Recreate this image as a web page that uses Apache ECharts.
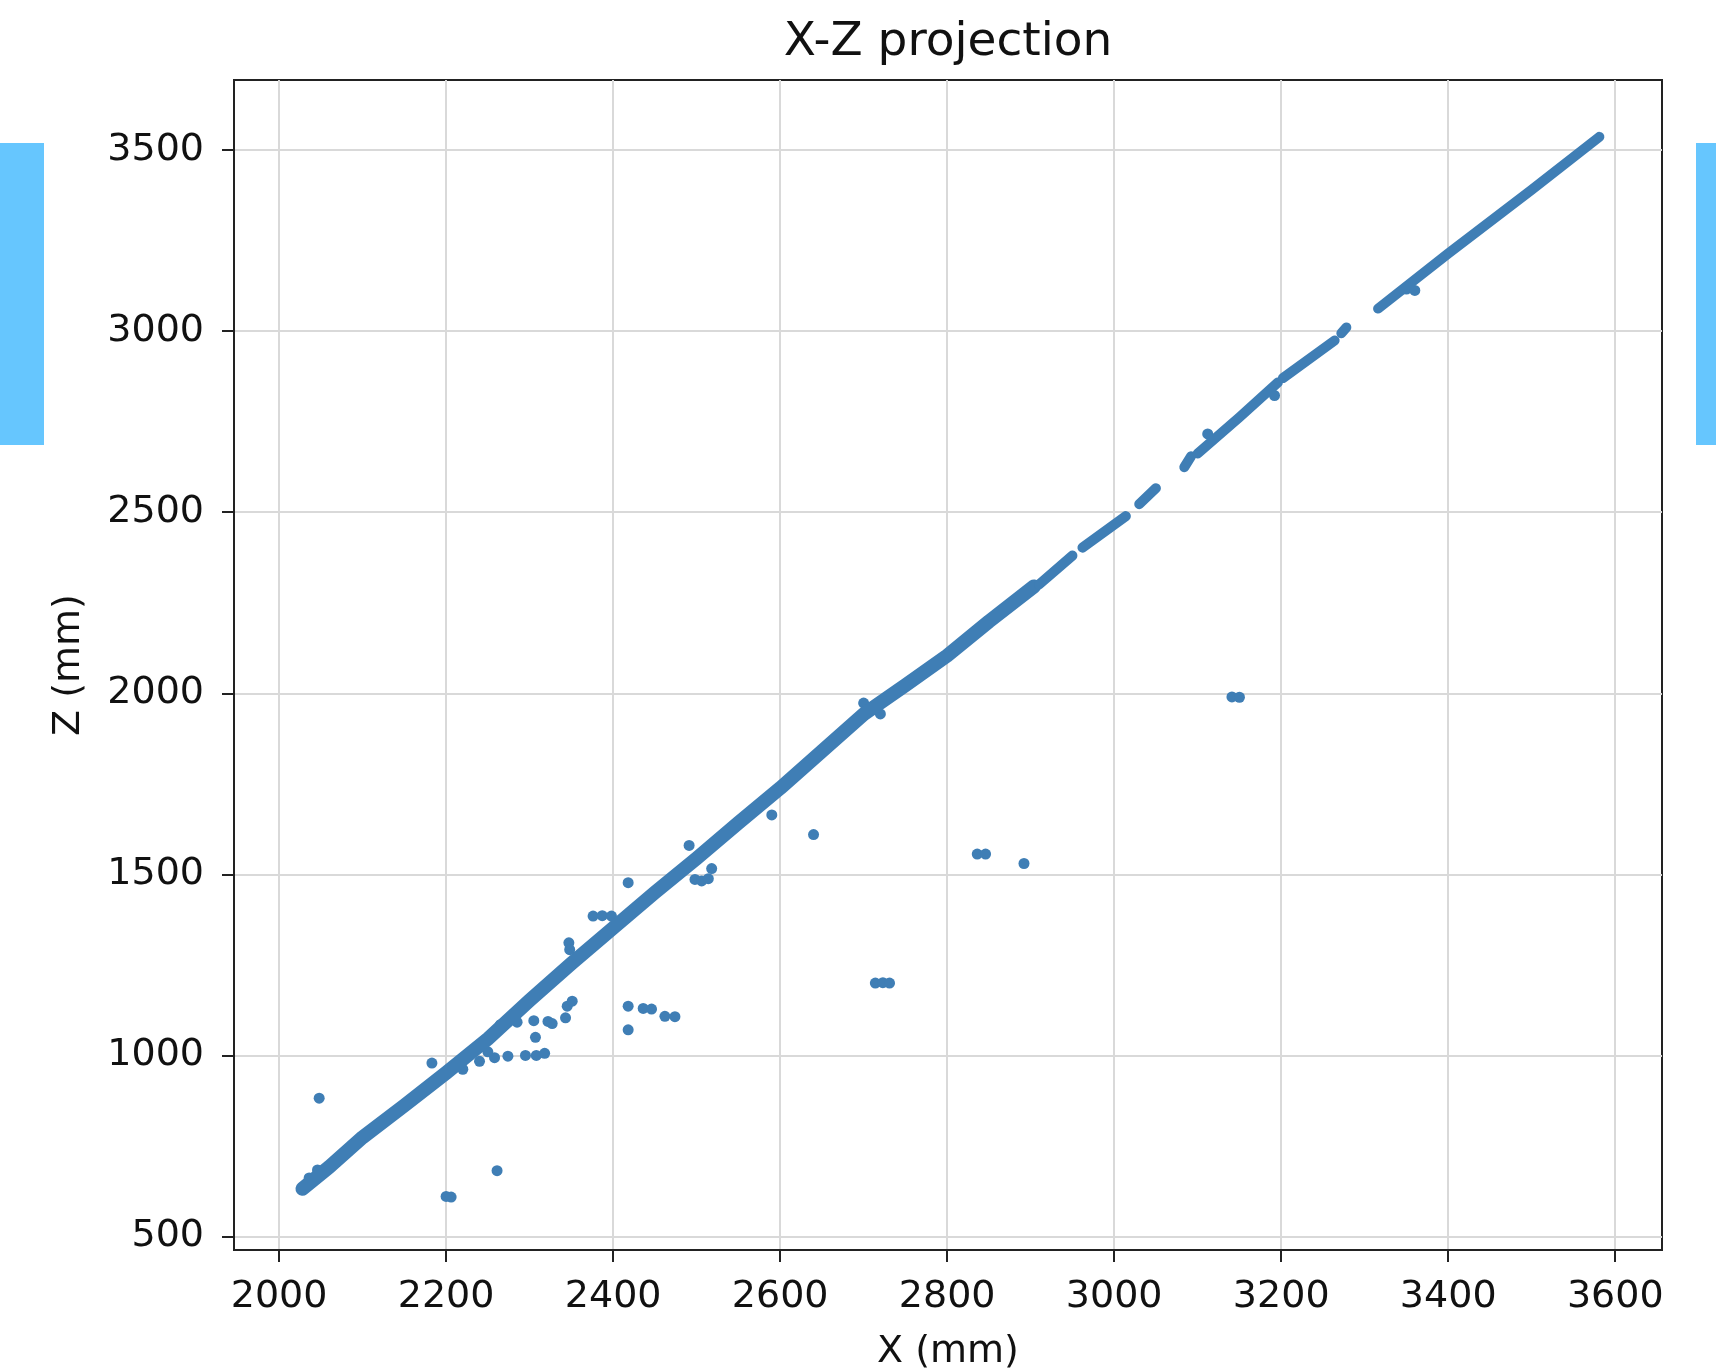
<!DOCTYPE html>
<html>
<head>
<meta charset="utf-8">
<title>X-Z projection</title>
<script src="https://cdn.jsdelivr.net/npm/echarts@6/dist/echarts.min.js"></script>
<style>
    html, body { margin: 0; padding: 0; background: #fff; }
    #xz-chart { width: 1716px; height: 1372px; }
</style>
</head>
<body>
<div id="xz-chart"></div>
<script>
// main track as [X, Z] in mm
var trackLower = [
    [2028, 632], [2060, 692], [2100, 774], [2150, 862], [2200, 952], [2250, 1046],
    [2300, 1152], [2350, 1254], [2400, 1352], [2450, 1450], [2500, 1544], [2550, 1642],
    [2600, 1738], [2650, 1840], [2700, 1942], [2750, 2022], [2800, 2104], [2850, 2198], [2904, 2295]
];
var trackSeg1 = [[2910, 2300], [2950, 2380]];
var trackSeg2 = [[2962, 2402], [3014, 2489]];
var trackSeg3 = [[3030, 2522], [3050, 2566]];
var trackSeg4 = [[3084, 2624], [3092, 2654]];
var trackSeg5 = [[3100, 2662], [3150, 2762], [3196, 2858]];
var trackSeg6 = [[3202, 2870], [3264, 2974]];
var trackSeg7 = [[3272, 2994], [3278, 3010]];
var trackSeg8 = [[3316, 3062], [3400, 3214], [3500, 3390], [3581, 3536]];

// hits away from the track
var hitPoints = [
    [2036, 662], [2046, 684], [2048, 882], [2183, 979], [2200, 611], [2206, 609], [2261, 682],
    [2220, 962], [2240, 984], [2258, 994], [2274, 998], [2250, 1010],
    [2265, 1085], [2285, 1092], [2305, 1096], [2322, 1094], [2327, 1088],
    [2295, 1000], [2308, 1000], [2318, 1006], [2307, 1050],
    [2345, 1136], [2351, 1150], [2343, 1104],
    [2418, 1136], [2436, 1130], [2446, 1128], [2462, 1108], [2474, 1107], [2418, 1071],
    [2418, 1477], [2376, 1385], [2387, 1386], [2398, 1385], [2347, 1311], [2348, 1292],
    [2498, 1486], [2506, 1482], [2514, 1488], [2491, 1580], [2518, 1516],
    [2590, 1664], [2640, 1610], [2700, 1973], [2720, 1943],
    [2836, 1556], [2846, 1556], [2892, 1530],
    [2714, 1200], [2723, 1201], [2731, 1200],
    [3141, 1990], [3150, 1989],
    [3112, 2716], [3192, 2822], [3350, 3116], [3360, 3112]
];

var xTicks = [2000, 2200, 2400, 2600, 2800, 3000, 3200, 3400, 3600];
var zTicks = [500, 1000, 1500, 2000, 2500, 3000, 3500];

var pointColor = '#3f7eb5';
var fontName = 'DejaVu Sans';

function trackSeries(data, width) {
    return {
        type: 'line',
        data: data,
        symbol: 'none',
        silent: true,
        lineStyle: { color: pointColor, width: width, cap: 'round', join: 'round' }
    };
}

function axisCommon(ticks, name, gap) {
    return {
        type: 'value',
        name: name,
        nameLocation: 'middle',
        nameGap: gap,
        nameTextStyle: { fontFamily: fontName, fontSize: 38, color: '#111' },
        axisLine: { show: true, lineStyle: { color: '#222', width: 2 } },
        axisTick: { show: true, inside: false, length: 12, customValues: ticks, lineStyle: { color: '#222', width: 2 } },
        axisLabel: {
            customValues: ticks,
            fontFamily: fontName,
            fontSize: 38,
            color: '#111',
            formatter: function (v) { return String(v); }
        },
        splitLine: { show: true, lineStyle: { color: '#d9d9d9', width: 2 } }
    };
}

var chart = echarts.init(document.getElementById('xz-chart'), null, { renderer: 'canvas' });

var xAxis = axisCommon(xTicks, 'X (mm)', 83);
xAxis.min = 1946;
xAxis.max = 3656;
xAxis.axisLabel.margin = 28;

var yAxis = axisCommon(zTicks, 'Z (mm)', 146);
yAxis.min = 463;
yAxis.max = 3693;
yAxis.axisLabel.margin = 30;

var series = [
    trackSeries(trackLower, 14),
    trackSeries(trackSeg1, 10),
    trackSeries(trackSeg2, 10),
    trackSeries(trackSeg3, 10),
    trackSeries(trackSeg4, 10),
    trackSeries(trackSeg5, 10),
    trackSeries(trackSeg6, 10),
    trackSeries(trackSeg7, 10),
    trackSeries(trackSeg8, 10),
    {
        type: 'scatter',
        data: hitPoints,
        symbolSize: 11,
        silent: true,
        itemStyle: { color: pointColor, opacity: 1 }
    }
];

chart.setOption({
    animation: false,
    backgroundColor: '#fff',
    grid: {
        left: 234, top: 80, width: 1428, height: 1170,
        outerBoundsMode: 'none',
        containLabel: false,
        show: true, borderColor: '#222', borderWidth: 2, backgroundColor: 'transparent'
    },
    xAxis: xAxis,
    yAxis: yAxis,
    series: series,
    graphic: [
        {
            type: 'text', x: 948, y: 43,
            style: { text: 'X-Z projection', fontFamily: fontName, fontSize: 47, fill: '#111', align: 'center', verticalAlign: 'middle' }
        },
        { type: 'rect', shape: { x: 0, y: 143, width: 44, height: 302 }, style: { fill: '#66c6fe' } },
        { type: 'rect', shape: { x: 1696, y: 143, width: 20, height: 302 }, style: { fill: '#66c6fe' } }
    ]
});
</script>
</body>
</html>
